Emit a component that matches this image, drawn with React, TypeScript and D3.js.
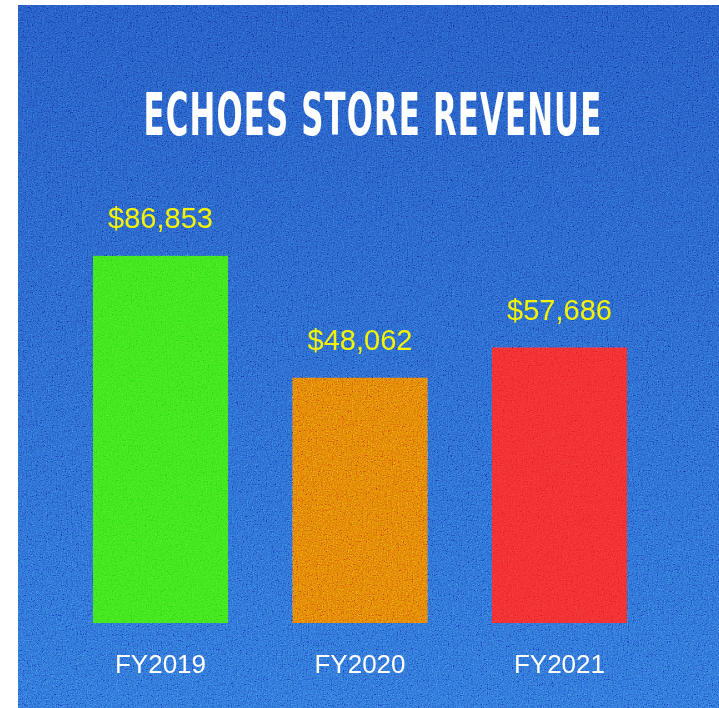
import React from 'react';
import * as d3 from 'd3';

const categories = ['FY2019', 'FY2020', 'FY2021'];
const revenue = [86853, 48062, 57686];
const barColors = ['#3ce41c', '#e07c08', '#f02c2e'];
const title = 'ECHOES STORE REVENUE';

const W = 719;
const H = 708;

const App: React.FC = () => {
  const x = d3.scaleBand<string>()
    .domain(categories)
    .range([93, 627])
    .paddingInner(0.323)
    .paddingOuter(0);

  // fitted to the picture: bars are not drawn from zero
  const y = d3.scaleLinear()
    .domain([-30000, 90000])
    .range([623, 246]);

  const fmt = d3.format('$,');

  return (
    <svg width={W} height={H} style={{ position: 'absolute', left: 0, top: 0 }}>
      <defs>
        <linearGradient id="bg" x1="0" y1="0" x2="0" y2="1">
          <stop offset="0" stopColor="#2456bf" />
          <stop offset="1" stopColor="#2e6ed6" />
        </linearGradient>
        <filter id="noise" x="0" y="0" width="100%" height="100%">
          <feTurbulence type="fractalNoise" baseFrequency="0.8" numOctaves="3" seed="3" stitchTiles="stitch" />
          <feColorMatrix type="saturate" values="0" />
          <feComponentTransfer>
            <feFuncR type="linear" slope="2.6" intercept="-0.8" />
            <feFuncG type="linear" slope="2.6" intercept="-0.8" />
            <feFuncB type="linear" slope="2.6" intercept="-0.8" />
          </feComponentTransfer>
        </filter>
      </defs>
      <rect x={0} y={0} width={W} height={H} fill="#fff" />
      <rect x={18} y={5} width={W - 18} height={H - 5} fill="url(#bg)" />

      {categories.map((c, i) => (
        <rect
          key={c}
          x={x(c)}
          y={y(revenue[i])}
          width={x.bandwidth()}
          height={y.range()[0] - y(revenue[i])}
          fill={barColors[i]}
        />
      ))}

      <rect
        x={18} y={5} width={W - 18} height={H - 5}
        filter="url(#noise)"
        style={{ mixBlendMode: 'overlay' }}
        opacity={0.7}
      />

      <g transform="translate(373,135) scale(0.58,1)">
        <text
          x={0}
          y={0}
          textAnchor="middle"
          fill="#fff"
          fontFamily="'Liberation Sans Narrow', 'DejaVu Sans Condensed', sans-serif"
          fontWeight="bold"
          fontSize={59}
          letterSpacing={2}
        >
          {title}
        </text>
      </g>

      {categories.map((c, i) => (
        <text
          key={c + '-v'}
          x={(x(c) || 0) + x.bandwidth() / 2}
          y={y(revenue[i]) - 28}
          textAnchor="middle"
          fill="#f4f400"
          fontFamily="'Liberation Sans', Arial, sans-serif"
          fontSize={29}
        >
          {fmt(revenue[i])}
        </text>
      ))}

      {categories.map((c) => (
        <text
          key={c + '-l'}
          x={(x(c) || 0) + x.bandwidth() / 2}
          y={673}
          textAnchor="middle"
          fill="#fff"
          fontFamily="'Liberation Sans', Arial, sans-serif"
          fontSize={26}
        >
          {c}
        </text>
      ))}
    </svg>
  );
};

export default App;
